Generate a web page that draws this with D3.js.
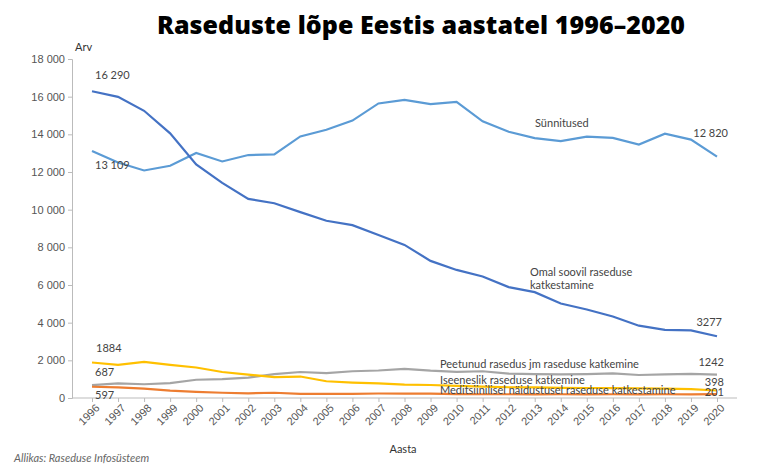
<!DOCTYPE html><html><head><meta charset="utf-8"><script src="https://cdn.jsdelivr.net/npm/d3@7"></script>
<style>body{margin:0;background:#fff;font-family:Lato,"Open Sans",sans-serif}</style></head><body><svg id="c" width="768" height="471"></svg>
<script>
const years=d3.range(1996,2021);
const births=[13109,12500,12080,12330,13010,12560,12900,12940,13890,14240,14730,15640,15830,15600,15720,14690,14140,13800,13640,13880,13810,13460,14030,13720,12820];
const onRequest=[16290,15990,15250,14050,12400,11420,10570,10340,9870,9410,9180,8650,8130,7280,6800,6450,5890,5620,5020,4700,4330,3840,3620,3590,3277];
const spontaneous=[1884,1760,1920,1760,1620,1380,1240,1110,1140,890,820,780,710,690,640,600,570,560,540,530,520,510,500,470,398];
const delayed=[687,780,730,790,970,1000,1080,1270,1380,1320,1420,1460,1550,1450,1390,1420,1290,1270,1250,1270,1310,1220,1250,1280,1242];
const medical=[597,560,500,390,330,280,250,280,220,220,220,240,230,230,210,200,200,190,200,190,200,190,200,190,201];
const yTicks=d3.range(0,18001,2000);
const svg=d3.select("#c");
const x=d3.scaleLinear().domain([1996,2020]).range([92,717]);
const y=d3.scaleLinear().domain([0,18000]).range([398,59]);
const fmt=v=>v>=1000?d3.format(",")(v).replace(","," "):String(v);
svg.append("text").attr("x",421).attr("y",34).attr("text-anchor","middle").attr("font-size",25).attr("font-weight",800).attr("font-family","'Open Sans',sans-serif").attr("textLength",528).text("Raseduste lõpe Eestis aastatel 1996–2020");
const ya=svg.append("g").attr("transform","translate(72,0)").call(d3.axisLeft(y).tickValues(yTicks).tickFormat(fmt).tickSize(4));
ya.select(".domain").attr("stroke","#bbb");ya.selectAll("line").attr("stroke","#bbb");ya.selectAll("text").attr("fill","#555").attr("font-size",11);
const xa=svg.append("g").attr("transform","translate(0,398)").call(d3.axisBottom(x).tickValues(years).tickFormat(d3.format("d")).tickSize(4));
xa.select(".domain").attr("d","M72,0H737").attr("stroke","#bbb");xa.selectAll("line").attr("stroke","#bbb");
xa.selectAll("text").attr("fill","#555").attr("font-size",11).attr("text-anchor","end").attr("transform","rotate(-45)").attr("dx","-2").attr("dy","6");
svg.append("text").attr("x",75).attr("y",51).attr("font-size",11).attr("fill","#333").text("Arv");
svg.append("text").attr("x",403).attr("y",453).attr("text-anchor","middle").attr("font-size",11).attr("fill","#333").text("Aasta");
svg.append("text").attr("x",14).attr("y",462).attr("font-size",11).attr("font-style","italic").attr("fill","#666").text("Allikas: Raseduse Infosüsteem");
const series=[[births,"#5B9BD5"],[onRequest,"#4472C4"],[delayed,"#A5A5A5"],[spontaneous,"#FFC000"],[medical,"#ED7D31"]];
const line=d3.line().x((d,i)=>x(years[i])).y(d=>y(d));
series.forEach(([d,c])=>svg.append("path").attr("d",line(d)).attr("fill","none").attr("stroke",c).attr("stroke-width",2.2));
const lab=(t,xx,yy,a)=>svg.append("text").attr("x",xx).attr("y",yy).attr("text-anchor",a||"start").attr("font-size",11).attr("fill","#444").text(t);
lab(fmt(16290),95,y(16290)-12);lab(fmt(13109),95,y(13109)+18);
lab(fmt(12820),728,y(12820)-20,"end");lab("Sünnitused",535,y(14400));
lab("Omal soovil raseduse",530,276);lab("katkestamine",530,289);
lab(String(3277),722,y(3277)-10,"end");
lab(String(1884),96,y(1884)-11);lab(String(687),95,y(687)-9);lab(String(597),95,y(597)+2+10);
lab("Peetunud rasedus jm raseduse katkemine",440,368);lab(String(1242),724,366,"end");
lab("Iseeneslik raseduse katkemine",440,384);lab(String(398),724,386,"end");
lab("Meditsiinilisel näidustusel raseduse katkestamine",440,394);lab(String(201),724,396,"end");
</script></body></html>
